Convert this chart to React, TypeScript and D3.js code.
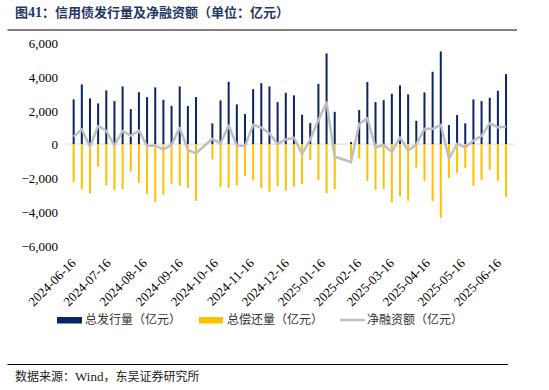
import React from "react";
import * as d3 from "d3";

const dates = [
  "2024-06-16","2024-06-23","2024-06-30","2024-07-07","2024-07-14","2024-07-21","2024-07-28",
  "2024-08-04","2024-08-11","2024-08-18","2024-08-25","2024-09-01","2024-09-08","2024-09-15",
  "2024-09-22","2024-09-29","2024-10-13","2024-10-20","2024-10-27","2024-11-03","2024-11-10",
  "2024-11-17","2024-11-24","2024-12-01","2024-12-08","2024-12-15","2024-12-22","2024-12-29",
  "2025-01-05","2025-01-12","2025-01-19","2025-01-26","2025-02-09","2025-02-16","2025-02-23",
  "2025-03-02","2025-03-09","2025-03-16","2025-03-23","2025-03-30","2025-04-06","2025-04-13",
  "2025-04-20","2025-04-27","2025-05-04","2025-05-11","2025-05-18","2025-05-25","2025-06-01",
  "2025-06-08","2025-06-15","2025-06-22",
];

const issuance = [
  2645, 3533, 2704, 2408, 3178, 2544, 3414, 2071, 3077, 2781, 3355, 2621, 2266, 3414,
  2249, 2781, 1225, 2586, 3686, 2349, 1775, 3254, 3609, 3414, 2485, 3036, 2882, 1734,
  1243, 3568, 5367, 1911, 118, 2012, 3669, 2485, 2604, 2976, 3473, 2941, 1379, 3059,
  4280, 5485, 1124, 1716, 1225, 2645, 2544, 2740, 3154, 4142,
];

const repayment = [
  -2249, -2680, -2917, -1343, -2444, -2722, -2663, -1615, -2290, -2959, -3414, -3000, -2367, -2467,
  -2604, -3355, -905, -2544, -2586, -2444, -1893, -2148, -2604, -2822, -2485, -2763, -2527, -2367,
  -947, -2130, -2917, -2663, -1142, -846, -2172, -2704, -2663, -3450, -3077, -3355, -1402, -2172,
  -3373, -4361, -2012, -1698, -1402, -2467, -2112, -1521, -2189, -3118,
];

const netFinancing = [
  432, 868, -158, 1065, 789, -99, 789, 493, 808, -118, -79, -316, -41, 966,
  -355, -540, 314, 41, 1100, -79, -118, 1142, 986, 631, 0, 276, 375, -580,
  276, 1420, 2467, -750, -1060, 1183, 1530, -200, -41, -473, 396, -380, -20, 905,
  905, 1142, -860, 20, -190, 210, 480, 1243, 986, 1045,
];

const tickDates = [
  "2024-06-16","2024-07-16","2024-08-16","2024-09-16","2024-10-16","2024-11-16","2024-12-16",
  "2025-01-16","2025-02-16","2025-03-16","2025-04-16","2025-05-16","2025-06-16",
];
const yTicks = [6000, 4000, 2000, 0, -2000, -4000, -6000];

const seriesNames = ["总发行量（亿元）", "总偿还量（亿元）", "净融资额（亿元）"];

const BLUE = "#0b2463";
const YELLOW = "#ffc000";
const GREY = "#bfbfbf";
const FONT = "'Liberation Serif', 'Times New Roman', 'Noto Sans CJK SC', serif";
const CJK = "'Noto Sans CJK SC', 'Liberation Serif', serif";

export default function App() {
  const parse = d3.utcParse("%Y-%m-%d");
  const pts = dates.map((d, i) => ({
    date: parse(d) as Date,
    iss: issuance[i],
    rep: repayment[i],
    net: netFinancing[i],
  }));

  const x = d3
    .scaleUtc()
    .domain([parse("2024-06-09") as Date, parse("2025-06-29") as Date])
    .range([65.5, 514.2]);
  const y = d3.scaleLinear().domain([-6000, 6000]).range([245.5, 42.7]);

  const line = d3
    .line<(typeof pts)[number]>()
    .x((d) => x(d.date))
    .y((d) => y(d.net));

  const bw = 2;

  return (
    <svg
      width={549}
      height={390}
      style={{ position: "absolute", left: 0, top: 0, background: "#fff" }}
      fontFamily={FONT}
    >
      <text x={15} y={16.5} fontSize={13} fontWeight="bold" fill="#1f3864" fontFamily={CJK}>
        图<tspan fontFamily={FONT} fontSize={14}>41</tspan>：信用债发行量及净融资额（单位：亿元）
      </text>
      <line x1={7.5} x2={517} y1={30} y2={30} stroke="#000" strokeWidth={1.2} />

      {yTicks.map((t) => (
        <text key={t} x={58} y={y(t)} dy="0.4em" textAnchor="end" fontSize={13} fill="#000">
          {d3.format(",")(t)}
        </text>
      ))}

      <line x1={x.range()[0]} x2={x.range()[1]} y1={y(0)} y2={y(0)} stroke="#d9d9d9" strokeWidth={1} />

      {pts.map((p, i) => (
        <g key={i}>
          <rect x={x(p.date) - bw / 2} y={y(p.iss)} width={bw} height={y(0) - y(p.iss)} fill={BLUE} />
          <rect x={x(p.date) - bw / 2} y={y(0)} width={bw} height={y(p.rep) - y(0)} fill={YELLOW} />
        </g>
      ))}

      <path d={line(pts) || ""} fill="none" stroke={GREY} strokeWidth={2.5} strokeLinejoin="round" />

      {tickDates.map((t) => {
        const tx = x(parse(t) as Date) + 3;
        return (
          <text
            key={t}
            transform={`translate(${tx},264) rotate(-45)`}
            textAnchor="end"
            fontSize={13}
            fill="#000"
          >
            {t}
          </text>
        );
      })}

      <g fontFamily={CJK} fontSize={12} fill="#333">
        <rect x={57} y={317} width={25} height={6.5} fill={BLUE} />
        <text x={85} y={320} dy="0.35em">{seriesNames[0]}</text>
        <rect x={199} y={317} width={24} height={6.5} fill={YELLOW} />
        <text x={227} y={320} dy="0.35em">{seriesNames[1]}</text>
        <line x1={340} x2={365} y1={320} y2={320} stroke={GREY} strokeWidth={2.5} />
        <text x={367} y={320} dy="0.35em">{seriesNames[2]}</text>
      </g>

      <line x1={7.5} x2={508} y1={364.5} y2={364.5} stroke="#000" strokeWidth={1.2} />
      <text x={15} y={377} dy="0.35em" fontSize={12} fill="#222" fontFamily={CJK}>
        数据来源：<tspan fontFamily={FONT} fontSize={13}>Wind</tspan>，东吴证券研究所
      </text>
    </svg>
  );
}
